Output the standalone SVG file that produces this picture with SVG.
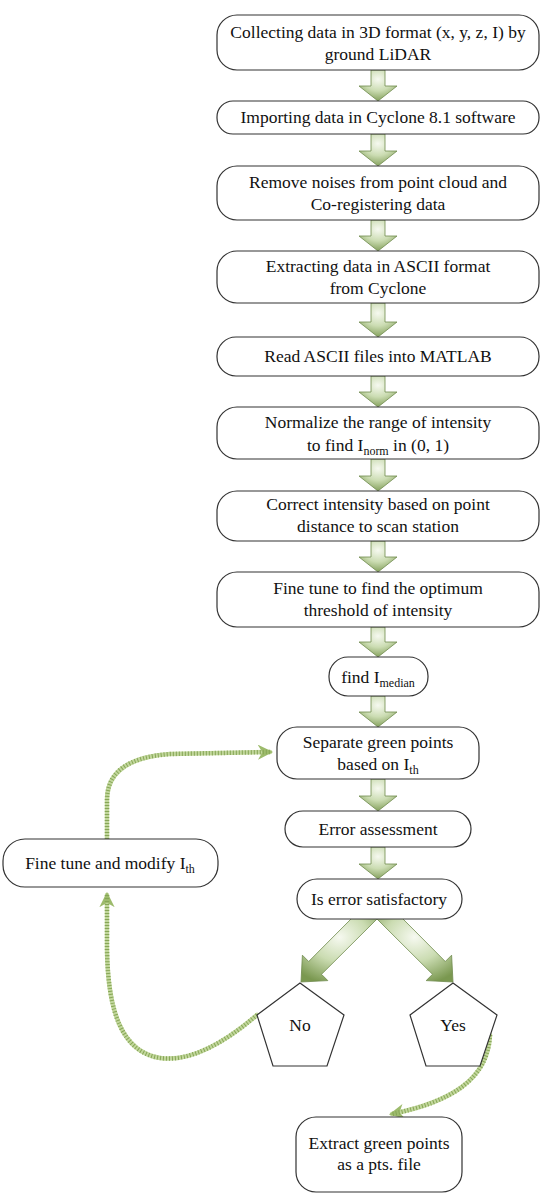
<svg xmlns="http://www.w3.org/2000/svg" width="550" height="1202" viewBox="0 0 550 1202">
<defs>
<radialGradient id="ag" cx="50%" cy="30%" r="75%">
<stop offset="0" stop-color="#f6f9f0"/>
<stop offset="0.5" stop-color="#cbdcb2"/>
<stop offset="1" stop-color="#7a9850"/>
</radialGradient>
<marker id="mh" viewBox="0 0 10 10" refX="8" refY="5" markerWidth="3.4" markerHeight="3.4" orient="auto" markerUnits="strokeWidth">
<path d="M0,0 L10,5 L0,10 L3,5 Z" fill="#9dbb6c"/>
</marker>
</defs>
<style>
.box{fill:#fff;stroke:#333;stroke-width:1.2}
.t{font-family:"Liberation Serif","Times New Roman",serif;font-size:17.5px;fill:#111;text-anchor:middle}
.s{font-size:12px}
.arr{fill:url(#ag);stroke:#6f8a4c;stroke-width:0.8}
.cb{fill:none;stroke:#c2d79c;stroke-width:4.5;stroke-linecap:round}
.ch{fill:none;stroke:#86a656;stroke-width:4.5;stroke-dasharray:1 2}
</style>
<rect width="550" height="1202" fill="#fff"/>
<g id="connectors">
<polygon class="arr" points="371,70 385,70 385,86 397,86 378,101 359,86 371,86"/>
<polygon class="arr" points="371,134 385,134 385,151 397,151 378,166 359,151 371,151"/>
<polygon class="arr" points="371,220 385,220 385,236 397,236 378,251 359,236 371,236"/>
<polygon class="arr" points="371,303 385,303 385,322 397,322 378,337 359,322 371,322"/>
<polygon class="arr" points="371,376 385,376 385,392 397,392 378,407 359,392 371,392"/>
<polygon class="arr" points="371,459 385,459 385,476 397,476 378,491 359,476 371,476"/>
<polygon class="arr" points="371,541 385,541 385,557 397,557 378,572 359,557 371,557"/>
<polygon class="arr" points="371,627 385,627 385,642 397,642 378,657 359,642 371,642"/>
<polygon class="arr" points="371,696 385,696 385,712 397,712 378,727 359,712 371,712"/>
<polygon class="arr" points="371,779 385,779 385,796 397,796 378,811 359,796 371,796"/>
<polygon class="arr" points="371,847 385,847 385,864 397,864 378,879 359,864 371,864"/>
<polygon class="arr" points="352,918 378,918 321.5,974.3 327.8,980.6 301,982 302.4,955.2 308.7,961.5"/>
<polygon class="arr" points="402,918 376,918 432.5,974.3 426.2,980.6 453,982 451.6,955.2 445.3,961.5"/>
<path class="cb" d="M257,1015 C222,1045 188,1062 160,1058 C122,1052 108,1012 107,950 L107,895" marker-end="url(#mh)"/>
<path class="ch" d="M257,1015 C222,1045 188,1062 160,1058 C122,1052 108,1012 107,950 L107,895"/>
<path class="cb" d="M107,839 L107,800 C107,772 128,757 170,754 L270,752" marker-end="url(#mh)"/>
<path class="ch" d="M107,839 L107,800 C107,772 128,757 170,754 L270,752"/>
<path class="cb" d="M490,1035 C488,1080 450,1102 392,1114" marker-end="url(#mh)"/>
<path class="ch" d="M490,1035 C488,1080 450,1102 392,1114"/>
</g>
<g id="n1"><rect class="box" x="217" y="15" width="322" height="55" rx="20"/><text class="t" x="378" y="38">Collecting data in 3D format (x, y, z, I) by</text><text class="t" x="378" y="60">ground LiDAR</text></g>
<g id="n2"><rect class="box" x="217" y="101" width="322" height="33" rx="16"/><text class="t" x="378" y="123">Importing data in Cyclone 8.1 software</text></g>
<g id="n3"><rect class="box" x="217" y="166" width="322" height="54" rx="20"/><text class="t" x="378" y="188">Remove noises from point cloud and</text><text class="t" x="378" y="210">Co-registering data</text></g>
<g id="n4"><rect class="box" x="217" y="251" width="322" height="52" rx="20"/><text class="t" x="378" y="272">Extracting data in ASCII format</text><text class="t" x="378" y="294">from Cyclone</text></g>
<g id="n5"><rect class="box" x="217" y="337" width="322" height="39" rx="19"/><text class="t" x="378" y="362">Read ASCII files into MATLAB</text></g>
<g id="n6"><rect class="box" x="217" y="407" width="322" height="52" rx="20"/><text class="t" x="378" y="428">Normalize the range of intensity</text><text class="t" x="378" y="451">to find I<tspan class="s" dy="4">norm</tspan><tspan dy="-4"> in (0, 1)</tspan></text></g>
<g id="n7"><rect class="box" x="217" y="491" width="322" height="50" rx="20"/><text class="t" x="378" y="510">Correct intensity based on point</text><text class="t" x="378" y="532">distance to scan station</text></g>
<g id="n8"><rect class="box" x="217" y="572" width="322" height="55" rx="20"/><text class="t" x="378" y="594">Fine tune to find the optimum</text><text class="t" x="378" y="616">threshold of intensity</text></g>
<g id="n9"><rect class="box" x="329" y="657" width="99" height="39" rx="19"/><text class="t" x="378" y="683">find I<tspan class="s" dy="4">median</tspan></text></g>
<g id="n10"><rect class="box" x="277" y="727" width="202" height="52" rx="20"/><text class="t" x="378" y="748">Separate green points</text><text class="t" x="378" y="770">based on I<tspan class="s" dy="4">th</tspan></text></g>
<g id="n11"><rect class="box" x="285" y="811" width="186" height="36" rx="18"/><text class="t" x="378" y="835">Error assessment</text></g>
<g id="n12"><rect class="box" x="297" y="879" width="165" height="40" rx="20"/><text class="t" x="379" y="905">Is error satisfactory</text></g>
<g id="n13"><rect class="box" x="3" y="839" width="215" height="48" rx="22"/><text class="t" x="110" y="869">Fine tune and modify I<tspan class="s" dy="4">th</tspan></text></g>
<g id="n14"><polygon class="box" points="300,983 344,1015 327,1066 273,1066 257,1015"/><text class="t" x="300" y="1031">No</text></g>
<g id="n15"><polygon class="box" points="453,983 497,1015 480,1066 426,1066 410,1015"/><text class="t" x="453" y="1031">Yes</text></g>
<g id="n16"><rect class="box" x="296" y="1117" width="166" height="75" rx="20"/><text class="t" x="379" y="1149">Extract green points</text><text class="t" x="379" y="1170">as a pts. file</text></g>
</svg>
